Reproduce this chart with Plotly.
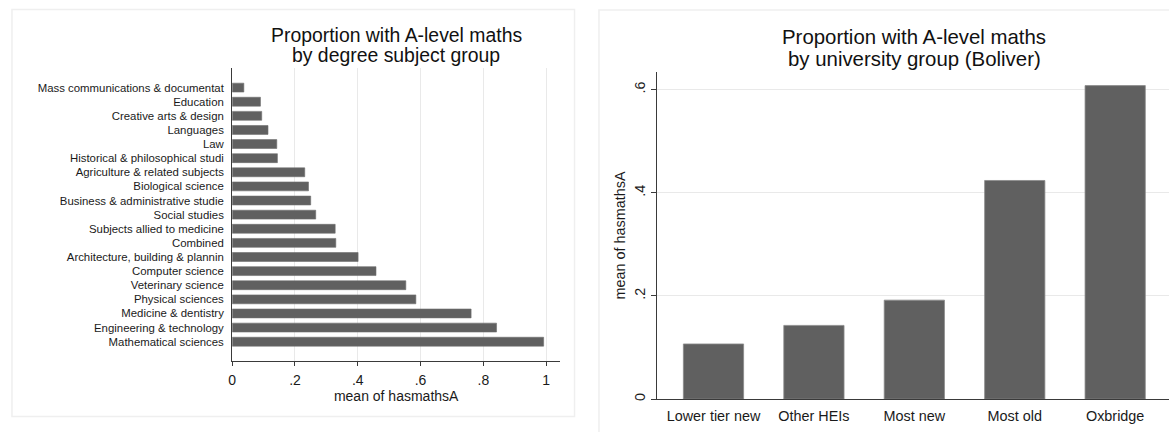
import plotly.graph_objects as go

# ---- data: left panel (degree subject group), top to bottom ----
subjects = [
    "Mass communications & documentat",
    "Education",
    "Creative arts & design",
    "Languages",
    "Law",
    "Historical & philosophical studi",
    "Agriculture & related subjects",
    "Biological science",
    "Business & administrative studie",
    "Social studies",
    "Subjects allied to medicine",
    "Combined",
    "Architecture, building & plannin",
    "Computer science",
    "Veterinary science",
    "Physical sciences",
    "Medicine & dentistry",
    "Engineering & technology",
    "Mathematical sciences",
]
subject_means = [0.037, 0.090, 0.094, 0.114, 0.142, 0.144, 0.231, 0.243, 0.250,
                 0.266, 0.328, 0.330, 0.401, 0.458, 0.553, 0.585, 0.761, 0.842, 0.992]

# ---- data: right panel (university group) ----
uni_groups = ["Lower tier new", "Other HEIs", "Most new", "Most old", "Oxbridge"]
uni_means = [0.107, 0.143, 0.192, 0.424, 0.608]

# ---- tick labels ----
left_tickvals = [0, 0.2, 0.4, 0.6, 0.8, 1.0]
left_ticktext = ["0", ".2", ".4", ".6", ".8", "1"]
right_tickvals = [0, 0.2, 0.4, 0.6]
right_ticktext = ["0", ".2", ".4", ".6"]

# ---- titles ----
left_title = ["Proportion with A-level maths", "by degree subject group"]
right_title = ["Proportion with A-level maths", "by university group (Boliver)"]

W, H = 1169, 432
BAR = "#606060"
GRID = "#e9e9e9"
AXIS = "#3a3a3a"
FONT = "Arial, Liberation Sans, sans-serif"


def px_x(p):
    return p / W


def px_y(p):
    return 1 - p / H


fig = go.Figure()

fig.add_trace(go.Bar(
    x=subject_means, y=subjects, orientation="h",
    marker=dict(color=BAR, line=dict(color="#6e6e6e", width=0.6)),
    width=0.63, xaxis="x", yaxis="y", showlegend=False,
))
fig.add_trace(go.Bar(
    x=uni_groups, y=uni_means,
    marker=dict(color=BAR, line=dict(color="#8a8a8a", width=0.8)),
    width=0.6, xaxis="x2", yaxis="y2", showlegend=False,
))

fig.update_layout(
    width=W, height=H, autosize=False,
    margin=dict(l=0, r=0, t=0, b=0),
    paper_bgcolor="white", plot_bgcolor="white",
    font=dict(family=FONT, color="#1a1a1a"),
    xaxis=dict(
        domain=[px_x(229), px_x(558)], range=[0, 329 / 315],
        tickvals=left_tickvals, ticktext=left_ticktext,
        ticks="outside", ticklen=4, tickcolor=AXIS, ticklabelstandoff=2,
        tickfont=dict(size=14),
        showgrid=True, gridcolor=GRID, gridwidth=1, zeroline=False,
        showline=True, linecolor=AXIS, linewidth=1.2,
        title=dict(text="mean of hasmathsA", font=dict(size=14), standoff=0),
        anchor="y", fixedrange=True,
    ),
    yaxis=dict(
        domain=[px_y(363), px_y(68)], range=[19.39, -1.41],
        type="category",
        ticks="outside", ticklen=5, tickcolor="rgba(0,0,0,0)",
        tickfont=dict(size=11.4),
        showgrid=False, zeroline=False,
        showline=True, linecolor=AXIS, linewidth=1.2,
        anchor="x", fixedrange=True,
    ),
    xaxis2=dict(
        domain=[px_x(655), 1.0], range=[-0.565, 4.536],
        type="category",
        ticks="outside", ticklen=3, tickcolor="rgba(0,0,0,0)",
        tickfont=dict(size=14.4),
        showgrid=False, zeroline=False,
        showline=True, linecolor=AXIS, linewidth=1.2,
        anchor="y2", fixedrange=True,
    ),
    yaxis2=dict(
        domain=[px_y(401), px_y(72)], range=[0, 0.635],
        tickvals=right_tickvals, ticktext=right_ticktext,
        tickangle=-90,
        ticks="outside", ticklen=5, tickcolor=AXIS,
        tickfont=dict(size=14.4),
        showgrid=True, gridcolor=GRID, gridwidth=1, zeroline=False,
        showline=True, linecolor=AXIS, linewidth=1.2,
        title=dict(text="mean of hasmathsA", font=dict(size=14.4), standoff=2),
        anchor="x2", fixedrange=True,
    ),
    bargap=0.4,
)

# Titles (one annotation per line to keep the tight line spacing)
for line, yc in zip(left_title, [35, 55.5]):
    fig.add_annotation(
        text=line, x=px_x(393.5), y=px_y(yc), xref="paper", yref="paper",
        xanchor="center", yanchor="middle", showarrow=False,
        font=dict(size=19.4, color="#111111"),
    )
for line, yc in zip(right_title, [37, 59]):
    fig.add_annotation(
        text=line, x=px_x(913.5), y=px_y(yc), xref="paper", yref="paper",
        xanchor="center", yanchor="middle", showarrow=False,
        font=dict(size=20.4, color="#111111"),
    )

# Panel frames
fig.add_shape(type="rect", xref="paper", yref="paper",
              x0=px_x(8), x1=px_x(572.5), y0=px_y(418.5), y1=px_y(9.5),
              line=dict(color="#efefef", width=1.5), layer="below")
fig.add_shape(type="rect", xref="paper", yref="paper",
              x0=px_x(597), x1=px_x(1175), y0=px_y(440), y1=px_y(10),
              line=dict(color="#efefef", width=1.5), layer="below")

fig.write_html(
    "out.html",
    config={"displayModeBar": False},
    post_script="document.body.style.margin='0';document.body.style.padding='0';",
)
